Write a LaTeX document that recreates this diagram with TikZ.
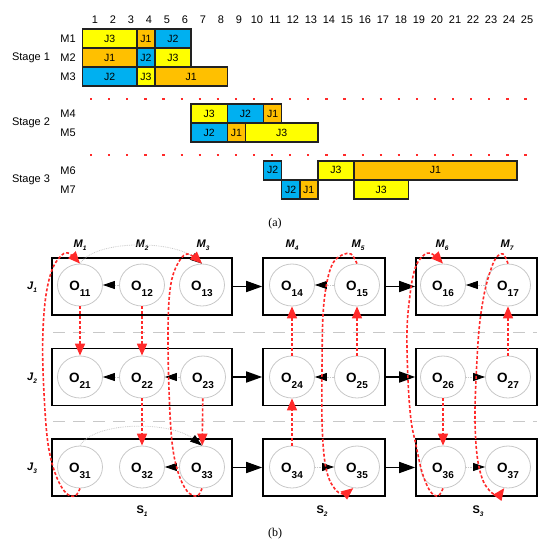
\documentclass[tikz,border=0pt]{standalone}
\usepackage{fontspec}
\setmainfont{Liberation Sans}
\newfontfamily\capfont{Liberation Serif}
\usetikzlibrary{arrows.meta,shapes.geometric}
\definecolor{gy}{HTML}{FFFF00}
\definecolor{go}{HTML}{FFC000}
\definecolor{gb}{HTML}{00B0F0}
\definecolor{rd}{HTML}{FF2A2A}
\definecolor{cg}{HTML}{C8C8C8}
\definecolor{bd}{HTML}{222222}
\newcommand\ganttbar[6]{\node[gbar,fill=#5,minimum width={18.1*(#3-#2)}] (#1) at ({82.5+18.1*(#2+#3)/2},#4) {#6};}
\newcommand\opnode[4]{\node[opn] (#1) at (#2,#3) {O\raisebox{-5.5pt}{\fontsize{10}{10}\selectfont\bfseries #4}};}
\newcommand\mysub[2]{#1\raisebox{-2.5pt}{\fontsize{6.5}{6.5}\selectfont #2}}
\begin{document}
\begin{tikzpicture}[x=1pt,y=-1pt,
  gbar/.style={draw=bd,line width=1.6pt,minimum height=19,inner sep=0pt,font=\fontsize{10.5}{10.5}\selectfont},
  txt/.style={inner sep=0pt,font=\fontsize{11}{11}\selectfont},
  reddots/.style={draw=rd,line width=1.7pt,dash pattern=on 2.2pt off 15.9pt},
  jbox/.style={draw=black,line width=1.6pt,inner sep=0pt,minimum height=57},
  opn/.style={ellipse,draw=cg,line width=0.8pt,minimum width=45,minimum height=42,inner sep=0pt,
     text height=12.5pt,text depth=1.5pt,font=\fontsize{13.5}{13.5}\selectfont\bfseries},
  mlab/.style={inner sep=0pt,font=\fontsize{11}{11}\selectfont\bfseries\itshape},
  slab/.style={inner sep=0pt,font=\fontsize{11}{11}\selectfont\bfseries},
  sep/.style={draw=cg,line width=0.9pt,dash pattern=on 12pt off 8pt},
  bigarr/.style={draw=black,line width=1.6pt,-{Triangle[length=16pt,width=11pt]}},
  garr/.style={draw=cg,line width=0.8pt,densely dotted,-{Triangle[length=12pt,width=8pt,color=black]}},
  rarr/.style={draw=rd,line width=1.6pt,dash pattern=on 3pt off 2pt,-{Triangle[length=12pt,width=10pt]}},
  captxt/.style={inner sep=0pt,font=\capfont\fontsize{12}{12}\selectfont}]
\useasboundingbox (0,0) rectangle (550,547);
% ---------- (a) Gantt chart ----------
\foreach \k in {1,...,25} \node[txt] (n\k) at ({95+18*(\k-1)},20) {\k};
\node[txt] (st1) at (31,58) {Stage 1};
\node[txt] (st2) at (31,123) {Stage 2};
\node[txt] (st3) at (31,180) {Stage 3};
\node[txt] (m1) at (68,38.5) {M1};
\node[txt] (m2) at (68,57.5) {M2};
\node[txt] (m3) at (68,76.5) {M3};
\node[txt] (m4) at (68,113.5) {M4};
\node[txt] (m5) at (68,132.5) {M5};
\node[txt] (m6) at (68,170.3) {M6};
\node[txt] (m7) at (68,189.5) {M7};
\ganttbar{a1}{0}{3}{38.5}{gy}{J3}
\ganttbar{a2}{3}{4}{38.5}{go}{J1}
\ganttbar{a3}{4}{6}{38.5}{gb}{J2}
\ganttbar{b1}{0}{3}{57.5}{go}{J1}
\ganttbar{b2}{3}{4}{57.5}{gb}{J2}
\ganttbar{b3}{4}{6}{57.5}{gy}{J3}
\ganttbar{c1}{0}{3}{76.5}{gb}{J2}
\ganttbar{c2}{3}{4}{76.5}{gy}{J3}
\ganttbar{c3}{4}{8}{76.5}{go}{J1}
\ganttbar{d1}{6}{8}{113.5}{gy}{J3}
\ganttbar{d2}{8}{10}{113.5}{gb}{J2}
\ganttbar{d3}{10}{11}{113.5}{go}{J1}
\ganttbar{e1}{6}{8}{132.5}{gb}{J2}
\ganttbar{e2}{8}{9}{132.5}{go}{J1}
\ganttbar{e3}{9}{13}{132.5}{gy}{J3}
\ganttbar{f1}{10}{11}{170.3}{gb}{J2}
\ganttbar{f2}{13}{15}{170.3}{gy}{J3}
\ganttbar{f3}{15}{24}{170.3}{go}{J1}
\ganttbar{g1}{11}{12}{189.5}{gb}{J2}
\ganttbar{g2}{12}{13}{189.5}{go}{J1}
\ganttbar{g3}{15}{18}{189.5}{gy}{J3}
\draw[reddots] (90,99) -- (530,99);
\draw[reddots] (90,155) -- (530,155);
\node[captxt] (capa) at (275,224) {(a)};
% ---------- (b) graph ----------
\node[jbox,minimum width=180] (B11) at (142,286.5) {};
\node[jbox,minimum width=122] (B12) at (324,286.5) {};
\node[jbox,minimum width=121] (B13) at (476.5,286.5) {};
\node[jbox,minimum width=180] (B21) at (142,377) {};
\node[jbox,minimum width=122] (B22) at (324,377) {};
\node[jbox,minimum width=121] (B23) at (476.5,377) {};
\node[jbox,minimum width=180] (B31) at (142,467.5) {};
\node[jbox,minimum width=122] (B32) at (324,467.5) {};
\node[jbox,minimum width=121] (B33) at (476.5,467.5) {};
\draw[sep] (53,332) -- (537,332);
\draw[sep] (53,421) -- (537,421);
\opnode{O11}{80}{285}{11}
\opnode{O12}{142}{285}{12}
\opnode{O13}{202}{285}{13}
\opnode{O14}{292}{285}{14}
\opnode{O15}{357}{285}{15}
\opnode{O16}{443}{285}{16}
\opnode{O17}{508}{285}{17}
\opnode{O21}{80}{377}{21}
\opnode{O22}{142}{377}{22}
\opnode{O23}{203}{377}{23}
\opnode{O24}{292}{377}{24}
\opnode{O25}{357}{377}{25}
\opnode{O26}{443}{377}{26}
\opnode{O27}{508}{377}{27}
\opnode{O31}{80}{467}{31}
\opnode{O32}{142}{467}{32}
\opnode{O33}{202}{467}{33}
\opnode{O34}{292}{467}{34}
\opnode{O35}{357}{467}{35}
\opnode{O36}{443}{467}{36}
\opnode{O37}{508}{467}{37}
% labels
\node[mlab] (M1) at (80,245) {\mysub{M}{1}};
\node[mlab] (M2) at (142,245) {\mysub{M}{2}};
\node[mlab] (M3) at (203,245) {\mysub{M}{3}};
\node[mlab] (M4) at (292,245) {\mysub{M}{4}};
\node[mlab] (M5) at (358,245) {\mysub{M}{5}};
\node[mlab] (M6) at (442,245) {\mysub{M}{6}};
\node[mlab] (M7) at (507,245) {\mysub{M}{7}};
\node[mlab] (J1) at (32,287) {\mysub{J}{1}};
\node[mlab] (J2) at (32,378) {\mysub{J}{2}};
\node[mlab] (J3) at (32,468) {\mysub{J}{3}};
\node[slab] (S1) at (142,511) {S\raisebox{-2.5pt}{\fontsize{6.5}{6.5}\selectfont\itshape 1}};
\node[slab] (S2) at (322,511) {S\raisebox{-2.5pt}{\fontsize{6.5}{6.5}\selectfont\itshape 2}};
\node[slab] (S3) at (478,511) {S\raisebox{-2.5pt}{\fontsize{6.5}{6.5}\selectfont\itshape 3}};
\node[captxt] (capb) at (275,534) {(b)};
% stage arrows
\draw[bigarr] (B11.east) -- (B12.west);
\draw[bigarr] (B12.east) -- (B13.west);
\draw[bigarr] (B21.east) -- (B22.west);
\draw[bigarr] (B22.east) -- (B23.west);
\draw[bigarr] (B31.east) -- (B32.west);
\draw[bigarr] (B32.east) -- (B33.west);
% job precedence (gray dotted)
\draw[garr] (O12) -- (O11);
\draw[garr] (O15) -- (O14);
\draw[garr] (O17) -- (O16);
\draw[garr] (O22) -- (O21);
\draw[garr] (O23) -- (O22);
\draw[garr] (O25) -- (O24);
\draw[garr] (O26) -- (O27);
\draw[garr] (O33) -- (O32);
\draw[garr] (O34) -- (O35);
\draw[garr] (O36) -- (O37);
\draw[garr] (O11.north) .. controls (95,240) and (170,240) .. (O13.north);
\draw[garr] (O31.north) .. controls (95,421) and (170,421) .. (O33.north);
% machine sequences (red)
\draw[rarr] (O11) -- (O21);
\draw[rarr] (O12) -- (O22);
\draw[rarr] (O22) -- (O32);
\draw[rarr] (O23) -- (O33);
\draw[rarr] (O34) -- (O24);
\draw[rarr] (O24) -- (O14);
\draw[rarr] (O25) -- (O15);
\draw[rarr] (O27) -- (O17);
\draw[rarr] (O26) -- (O36);
\draw[rarr] plot[smooth,tension=0.6] coordinates {(O31.south) (75,496) (66,493) (57,478) (50,455) (46,425) (43,370) (43,330) (46,295) (52,270) (60,257) (68,253) (O11.north)};
\draw[rarr] plot[smooth,tension=0.6] coordinates {(O33.south) (197,496) (187,491) (178,472) (172,442) (169,390) (168,330) (170,290) (176,267) (187,254) (O13.north)};
\draw[rarr] plot[smooth,tension=0.6] coordinates {(O15.north) (351,254) (342,255) (333,263) (327,282) (323,315) (322,370) (322,420) (324,455) (328,476) (335,489) (343,494) (O35.260)};
\draw[rarr] plot[smooth,tension=0.6] coordinates {(O36.south) (438,496) (430,491) (422,472) (416,445) (411,420) (408,380) (407,330) (410,295) (414,272) (420,259) (430,253) (O16.north)};
\draw[rarr] plot[smooth,tension=0.6] coordinates {(O17.north) (503,254) (496,258) (490,272) (484,295) (479,330) (476,380) (475,420) (477,455) (482,478) (489,490) (497,495) (O37.260)};
\end{tikzpicture}
\end{document}
